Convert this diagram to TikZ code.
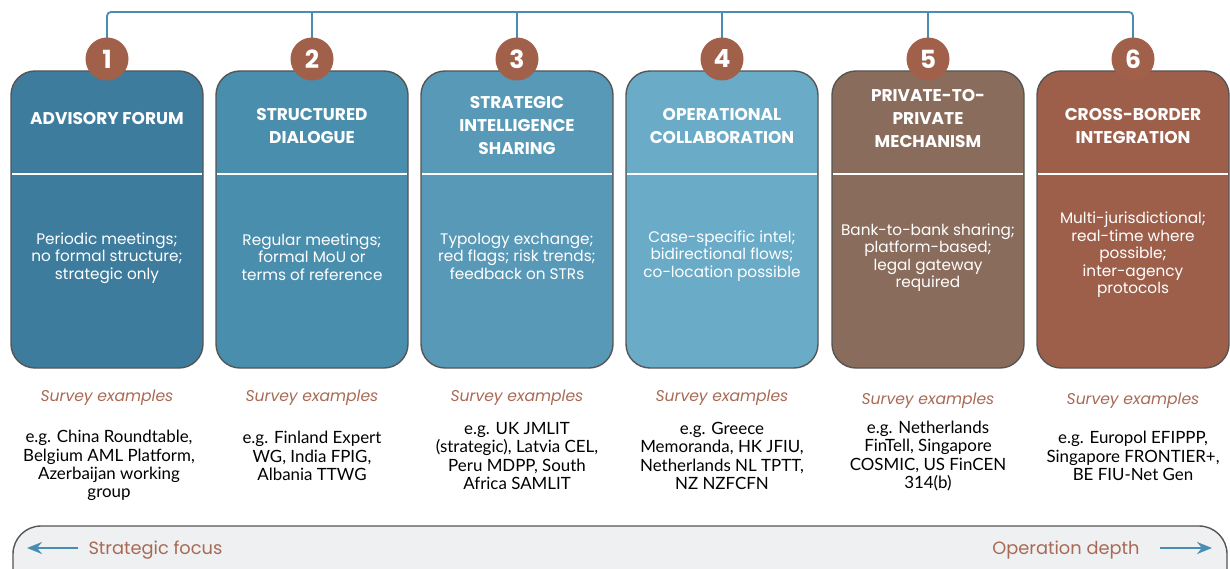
\documentclass[tikz,border=0pt]{standalone}
\usepackage{fontspec}
\setmainfont{Poppins}
\newfontfamily\exfont{Lato}
\usetikzlibrary{arrows.meta}

\definecolor{cA}{HTML}{3E7C9E}
\definecolor{cB}{HTML}{4A8EAE}
\definecolor{cC}{HTML}{5899B8}
\definecolor{cD}{HTML}{6AABC8}
\definecolor{cE}{HTML}{8A6C5C}
\definecolor{cF}{HTML}{9E5F4A}
\definecolor{badge}{HTML}{A0604A}
\definecolor{linkblue}{HTML}{4A8DB3}
\definecolor{rust}{HTML}{A86A55}
\definecolor{barfill}{HTML}{EEF0F2}
\definecolor{edge}{HTML}{555555}

\tikzset{
  panel/.style={draw=edge, line width=1.4pt, rounded corners=24pt},
  badgenode/.style={circle, fill=badge, minimum size=43pt, inner sep=0pt,
    text=white, font=\bfseries\fontsize{25}{25}\selectfont},
  headtext/.style={text=white, align=center, font=\bfseries\fontsize{17}{23}\selectfont},
  bodytext/.style={text=white, align=center, font=\fontsize{15.3}{17.5}\selectfont},
  surveytext/.style={text=rust, font=\itshape\fontsize{15.6}{16}\selectfont},
  extext/.style={text=black, align=center, font=\exfont\fontsize{16.9}{18.2}\selectfont},
  divider/.style={draw=white, line width=1.6pt},
  link/.style={draw=linkblue, line width=1.8pt},
  bararrow/.style={draw=linkblue, line width=2.2pt, -{Stealth[length=15pt,width=12pt]}},
  bartext/.style={text=rust, font=\fontsize{17.8}{18}\selectfont, anchor=base}
}

\begin{document}
\begin{tikzpicture}[x=1pt,y=-1pt]
\useasboundingbox (0,0) rectangle (1230,569);

% connector bus to the numbered badges
\coordinate (busL) at (107,12);
\coordinate (busR) at (1133,12);
\draw[link, rounded corners=4pt] (107,40) -- (busL) -- (busR) -- (1133,40);
\foreach \cx in {312,517,722,928}{
  \draw[link] (\cx,12) -- (\cx,40);
}

% panels
\foreach \x/\c in {11/cA, 216/cB, 421/cC, 626/cD, 832/cE, 1037/cF}{
  \draw[panel, fill=\c] (\x,71) rectangle ++(192,297);
  \draw[divider] (\x+1,174) -- ++(190,0);
}

% badges
\node[badgenode] (b1) at (107,59) {1};
\node[badgenode] (b2) at (312,59) {2};
\node[badgenode] (b3) at (517,59) {3};
\node[badgenode] (b4) at (722,59) {4};
\node[badgenode] (b5) at (928,59) {5};
\node[badgenode] (b6) at (1133,59) {6};

% headings
\node[headtext] (h1) at (107,118.5) {ADVISORY FORUM};
\node[headtext] (h2) at (312,126) {STRUCTURED\\DIALOGUE};
\node[headtext] (h3) at (517,125.5) {STRATEGIC\\INTELLIGENCE\\SHARING};
\node[headtext] (h4) at (722,126) {OPERATIONAL\\COLLABORATION};
\node[headtext] (h5) at (928,118.5) {PRIVATE-TO-\\PRIVATE\\MECHANISM};
\node[headtext] (h6) at (1133,126) {CROSS-BORDER\\INTEGRATION};

% descriptions
\node[bodytext] (d1) at (107,258) {Periodic meetings;\\no formal structure;\\strategic only};
\node[bodytext] (d2) at (312,257) {Regular meetings;\\formal MoU or\\terms of reference};
\node[bodytext] (d3) at (517,256) {Typology exchange;\\red flags; risk trends;\\feedback on STRs};
\node[bodytext] (d4) at (722,256) {Case-specific intel;\\bidirectional flows;\\co-location possible};
\node[bodytext] (d5) at (928,257.5) {Bank-to-bank sharing;\\platform-based;\\legal gateway\\required};
\node[bodytext] (d6) at (1133,255) {Multi-jurisdictional;\\real-time where\\possible;\\inter-agency\\protocols};

% survey labels
\node[surveytext] (s1) at (107,398) {Survey examples};
\node[surveytext] (s2) at (312,398) {Survey examples};
\node[surveytext] (s3) at (517,398) {Survey examples};
\node[surveytext] (s4) at (722,398) {Survey examples};
\node[surveytext] (s5) at (928,401) {Survey examples};
\node[surveytext] (s6) at (1133,401) {Survey examples};

% examples
\node[extext] (e1) at (109,465.5) {e.g. China Roundtable,\\Belgium AML Platform,\\Azerbaijan working\\group};
\node[extext] (e2) at (312,456) {e.g. Finland Expert\\WG, India FPIG,\\Albania TTWG};
\node[extext] (e3) at (517,456) {e.g. UK JMLIT\\(strategic), Latvia CEL,\\Peru MDPP, South\\Africa SAMLIT};
\node[extext] (e4) at (722,456) {e.g. Greece\\Memoranda, HK JFIU,\\Netherlands NL TPTT,\\NZ NZFCFN};
\node[extext] (e5) at (928,456) {e.g. Netherlands\\FinTell, Singapore\\COSMIC, US FinCEN\\314(b)};
\node[extext] (e6) at (1133,456) {e.g. Europol EFIPPP,\\Singapore FRONTIER+,\\BE FIU-Net Gen};

% bottom scale bar
\begin{scope}
  \clip (0,0) rectangle (1230,569);
  \draw[draw=edge, line width=1.4pt, fill=barfill, rounded corners=28pt] (13,526) rectangle (1227,610);
\end{scope}
\node[bartext, anchor=base west] (lt) at (85,554) {Strategic focus};
\node[bartext, anchor=base east] (rt) at (1143,554) {Operation depth};
\coordinate (la) at (27,548);
\coordinate (ra) at (1212,548);
\draw[bararrow] (78,548) -- (la);
\draw[bararrow] (1160,548) -- (ra);
\end{tikzpicture}
\end{document}
